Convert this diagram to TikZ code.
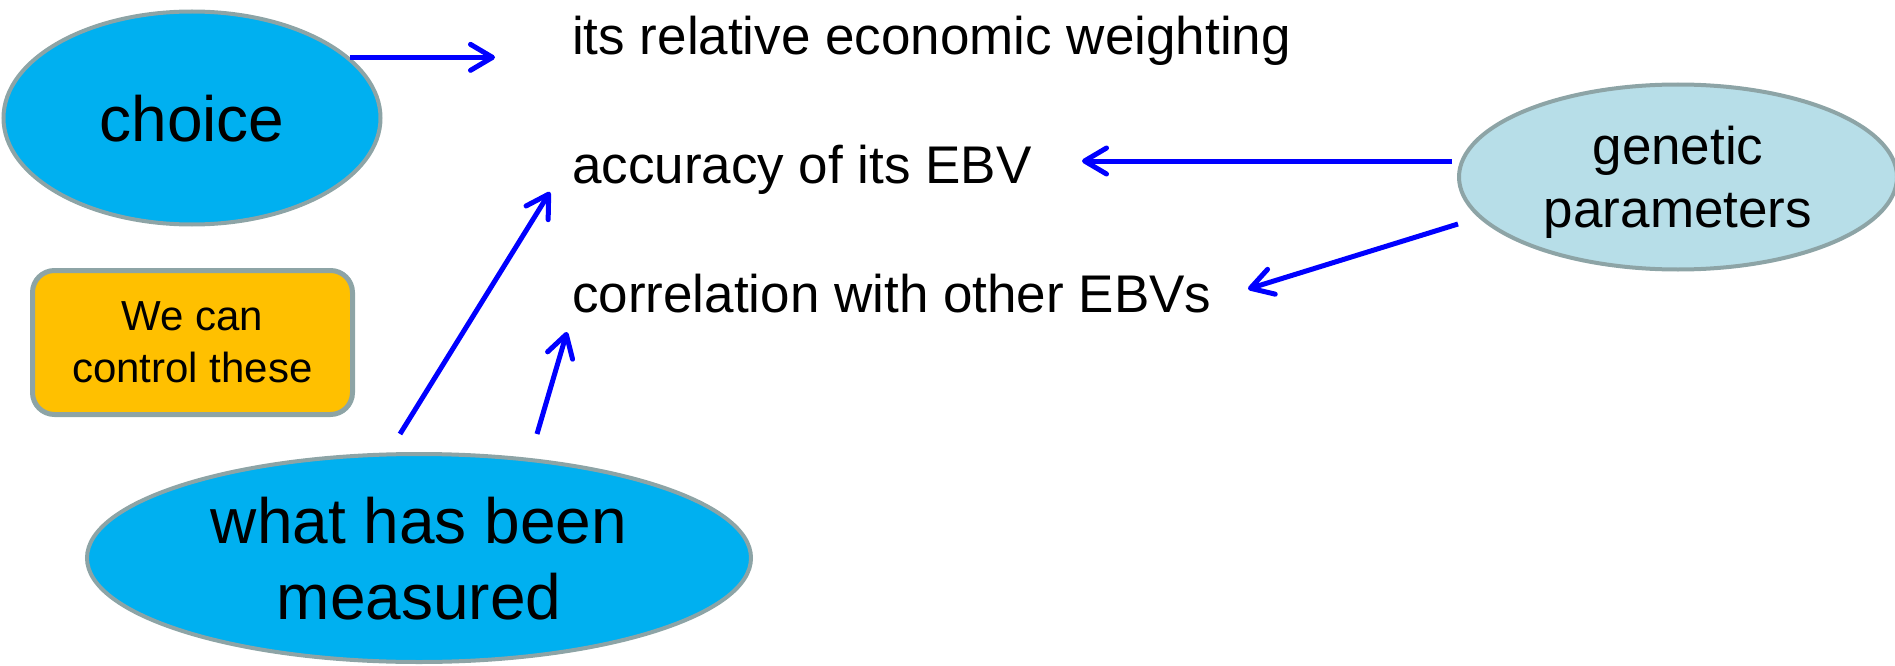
\documentclass[tikz,border=0pt]{standalone}
\usepackage{fontspec}
\setmainfont{Liberation Sans}
\usetikzlibrary{arrows.meta,shapes.geometric,calc}
\definecolor{ellblue}{HTML}{00B0F0}
\definecolor{edgegray}{RGB}{141,164,166}
\definecolor{gpfill}{HTML}{B7DEE8}
\definecolor{boxorange}{HTML}{FFC000}
\definecolor{arrblue}{HTML}{0000FF}
\tikzset{
  ell/.style={ellipse, draw=edgegray, line width=4pt, inner sep=0pt, align=center, text depth=0pt},
  bigtext/.style={font=\fontsize{64}{76}\selectfont},
  midtext/.style={font=\fontsize{53}{63}\selectfont},
  smalltext/.style={font=\fontsize{42}{52}\selectfont},
  item/.style={midtext, inner sep=0pt, anchor=base west},
  ctrlbox/.style={draw=edgegray, fill=boxorange, line width=5pt, rounded corners=22pt, inner sep=0pt, align=center, smalltext, text depth=0pt},
  arr/.style={draw=arrblue, line width=5pt, -{Straight Barb[length=22pt,width=26pt,round]}}
}
\begin{document}
\begin{tikzpicture}[x=1pt,y=-1pt]
\useasboundingbox (0,0) rectangle (1895,666);
% nodes
\node[ell, fill=ellblue, bigtext, minimum width=377pt, minimum height=213pt] (choice) at (192,118) {choice};
\node[ell, fill=gpfill, midtext, minimum width=438pt, minimum height=185pt] (gp) at (1678,177) {genetic\\parameters};
\node[ell, fill=ellblue, bigtext, minimum width=664pt, minimum height=208pt] (wm) at (419,558) {what has been\\measured};
\node[ctrlbox, minimum width=320pt, minimum height=144pt] (ctrl) at (192.5,342.5) {We can\\control these};
\node[item] (rel) at (572,55) {its relative economic weighting};
\node[item] (acc) at (572,183) {accuracy of its EBV};
\node[item] (cor) at (572,312) {correlation with other EBVs};
% free ends
\coordinate (t1) at (495,57);
\coordinate (t2) at (1082,161);
\coordinate (t3) at (1248,289);
\coordinate (t4) at (550,192);
\coordinate (t5) at (567,332);
% connectors
\draw[arr] (choice.21) -- (choice.21 -| t1);
\draw[arr] ($(gp.west |- t2)+(-5,0)$) -- (t2);
\draw[arr] ($(gp.west)+(1,47)$) -- (t3);
\draw[arr] ($(wm.north)+(-19,-18)$) -- (t4);
\draw[arr] ($(wm.north)+(118,-18)$) -- (t5);
\end{tikzpicture}
\end{document}
